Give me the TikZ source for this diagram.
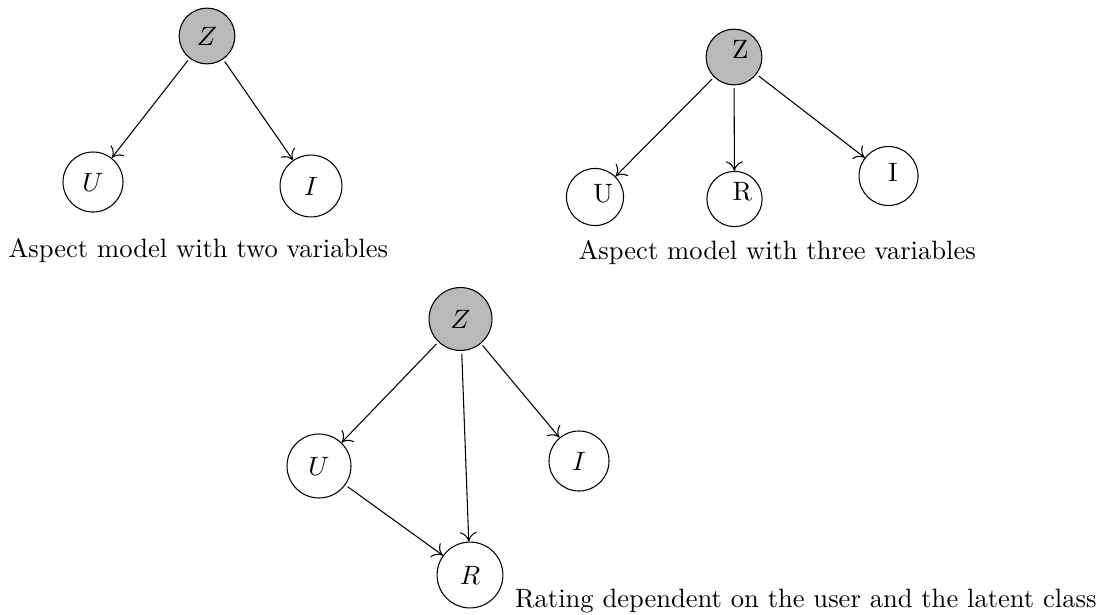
\documentclass[tikz,border=0pt]{standalone}
\usetikzlibrary{arrows.meta}
\definecolor{latentgray}{RGB}{185,185,185}
\tikzset{
  var/.style={draw, circle, line width=0.4pt, inner sep=0pt, minimum size=#1},
  var/.default=22pt,
  latent/.style={var=#1, fill=latentgray},
  latent/.default=22pt,
  dep/.style={-{To[length=3.6pt,width=6.4pt]}, line width=0.4pt, shorten <=1pt},
  caption/.style={anchor=base west, inner sep=0pt, font=\normalsize}
}
\begin{document}
\begin{tikzpicture}[x=0.3766pt, y=-0.3766pt]
\useasboundingbox (0,0) rectangle (1101,614);

% two-variable aspect model
\node[latent=21pt] (z1) at (207,36) {$Z$};
\node[var=22.6pt] (u1) at (93,182) {$U$};
\node[var=23.3pt] (i1) at (311,186) {$I$};
\draw[dep] (z1) -- (u1);
\draw[dep] (z1) -- (i1);
\node[caption] (c1) at (8,257) {Aspect model with two variables};

% three-variable aspect model
\node[latent=21pt, label={[xshift=2.3pt,yshift=3pt]center:Z}] (z2) at (734,57) {};
\node[var=21.5pt, label={[xshift=3pt,yshift=1.2pt]center:U}] (u2) at (595,197) {};
\node[var=20.8pt, label={[xshift=3pt,yshift=2.6pt]center:R}] (r2) at (734.5,199) {};
\node[var=22.2pt, label={[xshift=1.7pt,yshift=1.2pt]center:I}] (i2) at (888.5,176) {};
\draw[dep] (z2) -- (u2);
\draw[dep] (z2) -- (r2);
\draw[dep] (z2) -- (i2);
\node[caption] (c2) at (578,259) {Aspect model with three variables};

% rating depending on user and latent class
\node[latent=23.7pt] (z3) at (460.5,319) {$Z$};
\node[var=24.1pt] (u3) at (319,466) {$U$};
\node[var=22.6pt] (i3) at (579,461) {$I$};
\node[var=24.8pt] (r3) at (470,575) {$R$};
\draw[dep] (z3) -- (u3);
\draw[dep] (z3) -- (r3);
\draw[dep] (z3) -- (i3);
\draw[dep] (u3) -- (r3);
\node[caption, anchor=base east] (c3) at (1097,607) {Rating dependent on the user and the latent class};
\end{tikzpicture}
\end{document}
